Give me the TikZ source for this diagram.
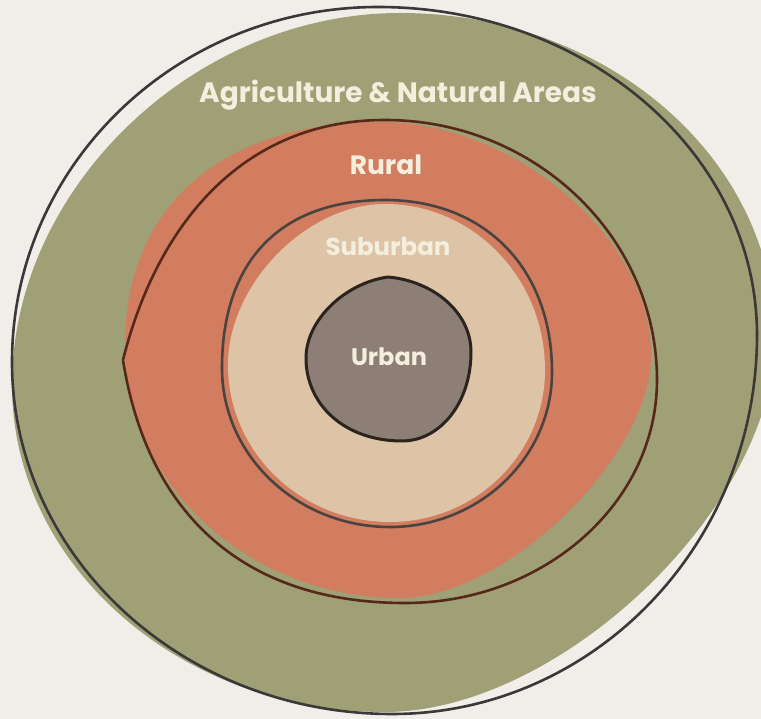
\documentclass[tikz,border=0pt]{standalone}
\usepackage{fontspec}
\setmainfont{Poppins}
\definecolor{bg}{HTML}{F1EDE8}
\definecolor{agri}{HTML}{9FA075}
\definecolor{rural}{HTML}{D27D5F}
\definecolor{suburb}{HTML}{DEC4A6}
\definecolor{urban}{HTML}{8D7E76}
\definecolor{lineA}{HTML}{3A3838}
\definecolor{lineR}{HTML}{56281A}
\definecolor{lineS}{HTML}{4A4440}
\definecolor{lineU}{HTML}{2A2420}
\definecolor{txt}{HTML}{F3EEDD}
% blob through left, top, right, bottom extreme points; quadrant tensions \kTL \kTR \kBR \kBL
\newcommand\blobpath[8]{(#1,#2) .. controls (#1,{#2-\kTL*(#2-#4)}) and ({#3-\kTL*(#3-#1)},#4) .. (#3,#4) .. controls ({#3+\kTR*(#5-#3)},#4) and (#5,{#6-\kTR*(#6-#4)}) .. (#5,#6) .. controls (#5,{#6+\kBR*(#8-#6)}) and ({#7+\kBR*(#5-#7)},#8) .. (#7,#8) .. controls ({#7-\kBL*(#7-#1)},#8) and (#1,{#2+\kBL*(#8-#2)}) .. (#1,#2) -- cycle}
\newcommand\setk[4]{\def\kTL{#1}\def\kTR{#2}\def\kBR{#3}\def\kBL{#4}}
\tikzset{
  lbl/.style={font=\bfseries, text=txt, inner sep=0pt},
  ring/.style={line width=2.6pt, line join=round, line cap=round}
}
\begin{document}
\begin{tikzpicture}[x=1pt,y=-1pt]
\fill[bg] (0,0) rectangle (761,719);
\useasboundingbox (0,0) rectangle (761,719);
\clip (0,0) rectangle (761,719);
% green fill
\setk{0.53}{0.552}{0.45}{0.55}
\fill[agri] \blobpath{12}{385}{400}{13}{775}{338}{385}{712};
% outer outline
\setk{0.552}{0.552}{0.552}{0.552}
\draw[ring, lineA] \blobpath{12}{362}{378}{7}{757}{335}{392}{714};
% rural fill
\setk{0.62}{0.5}{0.42}{0.55}
\fill[rural] \blobpath{125}{345}{380}{122}{651}{355}{400}{598};
% rural outline with a corner at the left
\draw[ring, lineR] (123,360) .. controls (156,228) and (240,120) .. (385,120)
  .. controls (535,120) and (657,237) .. (657,380)
  .. controls (657,503) and (544,603) .. (405,603)
  .. controls (236,603) and (146,506) .. (123,360) -- cycle;
% suburban fill
\setk{0.5}{0.552}{0.552}{0.552}
\fill[suburb] \blobpath{228}{365}{385}{204}{545}{370}{390}{522};
% suburban outline
\setk{0.64}{0.6}{0.552}{0.552}
\draw[ring, lineS] \blobpath{222}{368}{385}{200}{552}{372}{390}{527};
% urban
\filldraw[urban, draw=lineU, line width=3pt, line join=round]
  (306,358) .. controls (306,320) and (345,283) .. (388,277)
  .. controls (433,281) and (471,312) .. (471,352)
  .. controls (471,403) and (440,441) .. (402,441)
  .. controls (345,441) and (306,405) .. (306,358) -- cycle;
% labels
\node[lbl, font=\bfseries\fontsize{28}{30}\selectfont] (agri) at (398,95) {Agriculture \& Natural Areas};
\node[lbl, font=\bfseries\fontsize{26.5}{28}\selectfont] (rur) at (386,165) {Rural};
\node[lbl, font=\bfseries\fontsize{24.5}{26}\selectfont] (sub) at (388,247) {Suburban};
\node[lbl, font=\bfseries\fontsize{24}{26}\selectfont] (urb) at (389,357) {Urban};
\end{tikzpicture}
\end{document}
